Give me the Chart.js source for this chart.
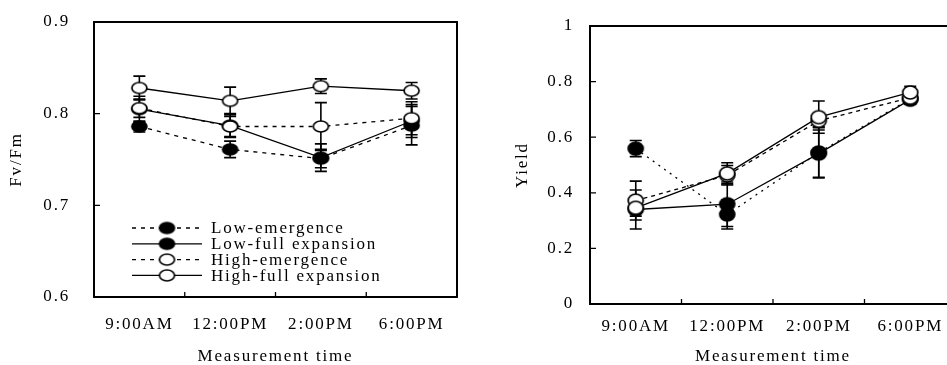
<!DOCTYPE html>
<html>
<head>
<meta charset="utf-8">
<script src="https://cdn.jsdelivr.net/npm/chart.js@4.4.1/dist/chart.umd.min.js"></script>
<style>
  html, body { margin: 0; padding: 0; background: #fff; overflow: hidden; width: 947px; height: 365px; }
  #fvfm { position: absolute; left: 0; top: 0; }
  #yield { position: absolute; left: 470px; top: 0; }
</style>
</head>
<body>
<canvas id="fvfm" width="470" height="365"></canvas>
<canvas id="yield" width="500" height="365"></canvas>
<script>
// Measurement times (x categories)
const times = ['9:00AM', '12:00PM', '2:00PM', '6:00PM'];
const seriesNames = ['Low-emergence', 'Low-full expansion', 'High-emergence', 'High-full expansion'];

// Fv/Fm means and error (±) per series
const fvfmLowEmergence = [0.786, 0.761, 0.751, 0.787];
const fvfmLowEmergenceErr = [0.006, 0.009, 0.010, 0.021];
const fvfmLowFull = [0.805, 0.787, 0.752, 0.792];
const fvfmLowFullErr = [0.014, 0.013, 0.015, 0.018];
const fvfmHighEmergence = [0.806, 0.786, 0.786, 0.795];
const fvfmHighEmergenceErr = [0.010, 0.011, 0.026, 0.018];
const fvfmHighFull = [0.828, 0.814, 0.830, 0.825];
const fvfmHighFullErr = [0.013, 0.015, 0.008, 0.009];
const fvfmTicks = [0.6, 0.7, 0.8, 0.9];

// Yield means and error (±) per series
const yieldLowEmergence = [0.559, 0.322, 0.545, 0.738];
const yieldLowEmergenceErr = [0.029, 0.052, 0.092, 0.012];
const yieldLowFull = [0.340, 0.359, 0.541, 0.735];
const yieldLowFullErr = [0.070, 0.080, 0.085, 0.016];
const yieldHighEmergence = [0.372, 0.463, 0.659, 0.742];
const yieldHighEmergenceErr = [0.070, 0.035, 0.025, 0.010];
const yieldHighFull = [0.346, 0.470, 0.672, 0.761];
const yieldHighFullErr = [0.030, 0.038, 0.058, 0.022];
const yieldTicks = [0, 0.2, 0.4, 0.6, 0.8, 1];

const FONT = 'Liberation Serif, Times New Roman, serif';
const FONT_SIZE = 17;

// Elliptical marker images (filled = low, open = high)
function marker(w, h, filled) {
  const c = document.createElement('canvas');
  c.width = w + 4; c.height = h + 4;
  const g = c.getContext('2d');
  g.beginPath();
  g.ellipse(c.width / 2, c.height / 2, w / 2, h / 2, 0, 0, Math.PI * 2);
  g.fillStyle = filled ? '#000' : '#fff';
  g.fill();
  g.lineWidth = 1.7;
  g.strokeStyle = '#000';
  g.stroke();
  return c;
}

// Context letter spacing for the wide-set serif text
const spacingPlugin = {
  id: 'spacing',
  beforeUpdate(chart, a, o) { chart.ctx.letterSpacing = o.px + 'px'; },
  beforeLayout(chart, a, o) { chart.ctx.letterSpacing = o.px + 'px'; },
  beforeDraw(chart, a, o) { chart.ctx.letterSpacing = o.px + 'px'; }
};

// Vertical error bars with caps, drawn under the markers
const errorBarPlugin = {
  id: 'errorBars',
  beforeDatasetsDraw(chart, a, o) {
    const ctx = chart.ctx, ys = chart.scales.y;
    ctx.save();
    ctx.strokeStyle = '#000';
    ctx.lineWidth = 1.6;
    ctx.setLineDash([]);
    chart.data.datasets.forEach((ds, i) => {
      const meta = chart.getDatasetMeta(i);
      meta.data.forEach((pt, j) => {
        const v = ds.data[j], e = ds.errors[j];
        const yt = ys.getPixelForValue(v + e), yb = ys.getPixelForValue(v - e);
        const x = pt.x, h = o.cap;
        ctx.beginPath();
        ctx.moveTo(x, yt); ctx.lineTo(x, yb);
        ctx.moveTo(x - h, yt); ctx.lineTo(x + h, yt);
        ctx.moveTo(x - h, yb); ctx.lineTo(x + h, yb);
        ctx.stroke();
      });
    });
    ctx.restore();
  }
};

// Plot frame with inward tick marks
const framePlugin = {
  id: 'frame',
  afterDraw(chart) {
    const ctx = chart.ctx, ca = chart.chartArea, xs = chart.scales.x, ys = chart.scales.y;
    ctx.save();
    ctx.strokeStyle = '#000';
    ctx.setLineDash([]);
    ctx.lineWidth = 2;
    ctx.strokeRect(ca.left, ca.top, ca.right - ca.left, ca.bottom - ca.top);
    ctx.lineWidth = 1.3;
    ctx.beginPath();
    ys.ticks.forEach(t => {
      const y = ys.getPixelForValue(t.value);
      if (y > ca.top + 1 && y < ca.bottom - 1) { ctx.moveTo(ca.left, y); ctx.lineTo(ca.left + 6, y); }
    });
    for (let i = 0; i < xs.ticks.length - 1; i++) {
      const x = (xs.getPixelForValue(i) + xs.getPixelForValue(i + 1)) / 2;
      ctx.moveTo(x, ca.bottom); ctx.lineTo(x, ca.bottom - 5);
    }
    ctx.stroke();
    ctx.restore();
  }
};

// Legend drawn inside the plot area
const insideLegendPlugin = {
  id: 'insideLegend',
  afterDatasetsDraw(chart, a, o) {
    if (!o.show) return;
    const ctx = chart.ctx;
    ctx.save();
    chart.data.datasets.forEach((ds, i) => {
      const y = o.y + i * o.row;
      ctx.strokeStyle = '#000';
      ctx.lineWidth = 1.3;
      ctx.setLineDash(ds.borderDash || []);
      ctx.beginPath();
      ctx.moveTo(o.x1, y); ctx.lineTo(o.x2, y);
      ctx.stroke();
      ctx.setLineDash([]);
      const m = ds.pointStyle;
      ctx.drawImage(m, (o.x1 + o.x2) / 2 - m.width / 2, y - m.height / 2);
      ctx.fillStyle = '#000';
      ctx.font = FONT_SIZE + 'px ' + FONT;
      ctx.textAlign = 'left';
      ctx.textBaseline = 'middle';
      ctx.fillText(ds.label, o.tx, y + 1);
    });
    ctx.restore();
  }
};

function makeSets(vals, errs, dashes, mw, mh) {
  const filled = [true, true, false, false];
  // high-full on top, low-emergence at the bottom
  const order = [3, 2, 1, 0];
  return seriesNames.map((name, i) => ({
    label: name,
    data: vals[i],
    errors: errs[i],
    borderColor: '#000',
    borderWidth: 1.3,
    borderDash: dashes[i],
    pointStyle: marker(mw, mh, filled[i]),
    pointRadius: 7,
    pointHoverRadius: 7,
    fill: false,
    tension: 0,
    order: order[i]
  }));
}

function buildChart(id, cfg) {
  const font = { family: FONT, size: FONT_SIZE };
  return new Chart(document.getElementById(id), {
    type: 'line',
    data: { labels: times, datasets: cfg.datasets },
    options: {
      responsive: false,
      animation: false,
      layout: { padding: cfg.padding },
      plugins: {
        legend: { display: false },
        tooltip: { enabled: false },
        spacing: { px: 1.8 },
        errorBars: { cap: 6 },
        insideLegend: cfg.legend
      },
      scales: {
        x: {
          type: 'category',
          offset: true,
          grid: { display: false, drawTicks: false },
          border: { display: false },
          ticks: { color: '#000', font, padding: cfg.xPad, maxRotation: 0, autoSkip: false },
          title: { display: true, text: 'Measurement time', color: '#000', font: { ...font, lineHeight: 1 }, padding: { top: 0, bottom: 0 } },
          afterFit(s) { s.height = cfg.xHeight; }
        },
        y: {
          min: cfg.min, max: cfg.max,
          afterBuildTicks(s) { s.ticks = cfg.ticks.map(v => ({ value: v })); },
          grid: { display: false, drawTicks: false },
          border: { display: false },
          ticks: { color: '#000', font, padding: cfg.yPad, callback: v => String(v) },
          title: { display: true, text: cfg.yTitle, color: '#000', font: { ...font, lineHeight: 1 }, padding: { top: cfg.yTitlePad, bottom: 0 } },
          afterFit(s) { s.width = cfg.yWidth; s.paddingTop = 0; s.paddingBottom = 0; }
        }
      }
    },
    plugins: [spacingPlugin, errorBarPlugin, framePlugin, insideLegendPlugin]
  });
}

buildChart('fvfm', {
  datasets: makeSets(
    [fvfmLowEmergence, fvfmLowFull, fvfmHighEmergence, fvfmHighFull],
    [fvfmLowEmergenceErr, fvfmLowFullErr, fvfmHighEmergenceErr, fvfmHighFullErr],
    [[4, 5], [], [4, 5], []], 15, 11),
  padding: { top: 22, right: 13, left: 0, bottom: 0 },
  xHeight: 68, yWidth: 94, xPad: 17, yPad: 24, yTitlePad: 8.5,
  min: 0.6, max: 0.9, ticks: fvfmTicks, yTitle: 'Fv/Fm',
  legend: { show: true, x1: 132, x2: 202, tx: 211, y: 228, row: 15.8 }
});

buildChart('yield', {
  datasets: makeSets(
    [yieldLowEmergence, yieldLowFull, yieldHighEmergence, yieldHighFull],
    [yieldLowEmergenceErr, yieldLowFullErr, yieldHighEmergenceErr, yieldHighFullErr],
    [[2, 5], [], [4, 4], []], 15, 13),
  padding: { top: 26, right: 14, left: 0, bottom: 0 },
  xHeight: 61, yWidth: 120, xPad: 12, yPad: 16, yTitlePad: 44.5,
  min: 0, max: 1, ticks: yieldTicks, yTitle: 'Yield',
  legend: { show: false }
});
</script>
</body>
</html>
